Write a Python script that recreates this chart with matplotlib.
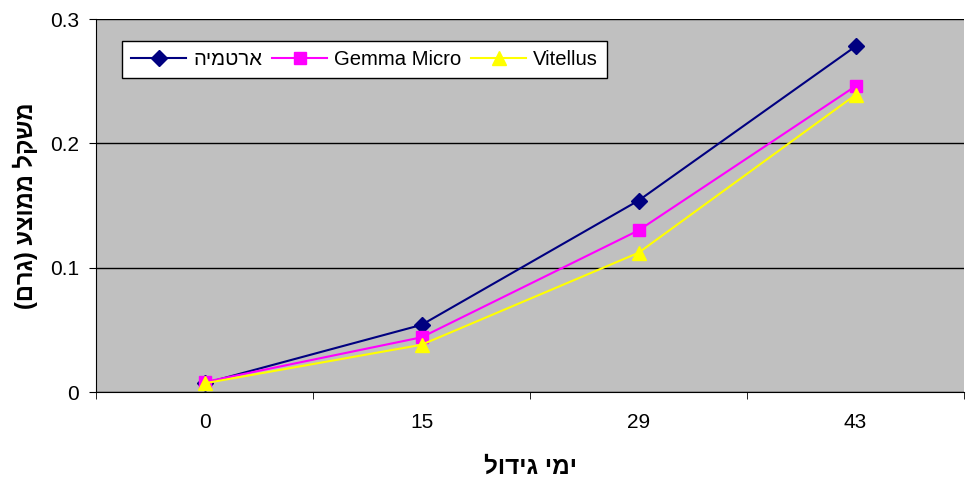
import numpy as np
import matplotlib
matplotlib.use('Agg')
import matplotlib.pyplot as plt

plt.rcParams['font.family'] = ['Liberation Sans', 'DejaVu Sans']

# נתונים
days = ['0', '15', '29', '43']
artemia = [0.007, 0.054, 0.154, 0.278]
gemma = [0.008, 0.044, 0.130, 0.246]
vitellus = [0.007, 0.038, 0.112, 0.239]

# עברית - ההפוך לתצוגה משמאל לימין
def heb(s):
    s = s[::-1]
    return s.translate(str.maketrans('()', ')('))

names = [heb('ארטמיה'), 'Gemma Micro', 'Vitellus']
ylabel = heb('משקל ממוצע (גרם)')
xlabel = heb('ימי גידול')

fig = plt.figure(figsize=(9.66, 4.79), dpi=100)
ax = fig.add_axes([0.0994, 0.1816, 0.8986, 0.7787])
ax.set_facecolor('#c0c0c0')

x = np.arange(len(days))
ax.plot(x, artemia, color='#000080', marker='D', markersize=8, lw=1.5, label=names[0])
ax.plot(x, gemma, color='#ff00ff', marker='s', markersize=8.5, lw=1.5, label=names[1])
ax.plot(x, vitellus, color='#ffff00', marker='^', markersize=10, lw=1.5, label=names[2])

ax.set_xlim(-0.5, 3.5)
ax.set_ylim(0, 0.3)
ax.set_yticks([0, 0.1, 0.2, 0.3])
ax.set_yticklabels(['0', '0.1', '0.2', '0.3'])
ax.set_xticks(x)
ax.set_xticklabels(days)
ax.set_xticks(np.arange(-0.5, 4, 1), minor=True)
ax.tick_params(axis='x', which='major', length=0, pad=15, labelsize=15)
ax.tick_params(axis='x', which='minor', length=5, direction='out')
ax.tick_params(axis='y', length=5, direction='out', labelsize=15, pad=7)

ax.yaxis.grid(True, color='black', lw=1)
ax.set_axisbelow(True)
for s in ['top', 'right']:
    ax.spines[s].set_visible(False)
ax.spines['left'].set_color('black')
ax.spines['bottom'].set_color('black')

ax.set_ylabel(ylabel, fontsize=17, fontweight='bold', labelpad=9)
ax.set_xlabel(xlabel, fontsize=17.5, fontweight='bold', labelpad=17)

leg = ax.legend(loc='upper left', bbox_to_anchor=(0.03, 0.941), ncol=3,
                fontsize=14.6, frameon=True, fancybox=False, handlelength=2.7,
                columnspacing=0.5, handletextpad=0.35, borderpad=0.45,
                borderaxespad=0)
leg.get_frame().set_edgecolor('black')
leg.get_frame().set_facecolor('white')
leg.get_frame().set_alpha(1)

fig.savefig('out.png', dpi=100)
